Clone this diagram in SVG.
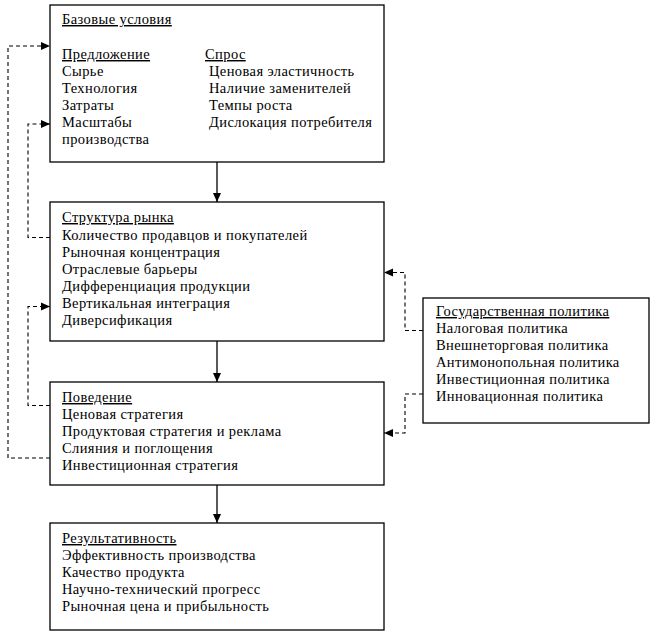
<svg xmlns="http://www.w3.org/2000/svg" width="657" height="635" viewBox="0 0 657 635">
<defs>
<marker id="ah" markerWidth="10" markerHeight="10" refX="9" refY="5" orient="auto" markerUnits="userSpaceOnUse">
<path d="M0,1 L9,5 L0,9 Z" fill="#000"/>
</marker>
<style>
.box{fill:#fff;stroke:#000;stroke-width:1.3}
.u{text-decoration:underline}
.solid{fill:none;stroke:#000;stroke-width:1.3}
.dash{fill:none;stroke:#000;stroke-width:1.1;stroke-dasharray:4,3}
</style>
</defs>
<rect width="657" height="635" fill="#fff"/>
<g id="connectors">
<line class="solid" x1="217" y1="162" x2="217" y2="202" marker-end="url(#ah)"/>
<line class="solid" x1="217" y1="341" x2="217" y2="382" marker-end="url(#ah)"/>
<line class="solid" x1="217" y1="485" x2="217" y2="523" marker-end="url(#ah)"/>
<polyline class="dash" points="50,458 8,458 8,46 50,46" marker-end="url(#ah)"/>
<polyline class="dash" points="50,237.5 28,237.5 28,124 50,124" marker-end="url(#ah)"/>
<polyline class="dash" points="50,405.5 28,405.5 28,306.5 50,306.5" marker-end="url(#ah)"/>
<polyline class="dash" points="423,330.5 405,330.5 405,272.5 384,272.5" marker-end="url(#ah)"/>
<polyline class="dash" points="423,394 405,394 405,433 384,433" marker-end="url(#ah)"/>
</g>
<g font-family="'Liberation Serif', 'Times New Roman', serif" font-size="14.5" letter-spacing="0.4" fill="#000">
<g id="base">
<rect class="box" x="50" y="5" width="334" height="157"/>
<text x="62" y="24" class="u">Базовые условия</text>
<text x="62" y="59" class="u">Предложение</text>
<text x="62" y="76">Сырье</text>
<text x="62" y="93">Технология</text>
<text x="62" y="110">Затраты</text>
<text x="62" y="127">Масштабы</text>
<text x="62" y="144">производства</text>
<text x="205" y="59" class="u">Спрос</text>
<text x="209" y="76">Ценовая эластичность</text>
<text x="209" y="93">Наличие заменителей</text>
<text x="209" y="110">Темпы роста</text>
<text x="209" y="127">Дислокация потребителя</text>
</g>
<g id="structure">
<rect class="box" x="50" y="202" width="334" height="139"/>
<text x="62" y="222" class="u">Структура рынка</text>
<text x="62" y="239.5">Количество продавцов и покупателей</text>
<text x="62" y="256.5">Рыночная концентрация</text>
<text x="62" y="273.5">Отраслевые барьеры</text>
<text x="62" y="290.5">Дифференциация продукции</text>
<text x="62" y="307.5">Вертикальная интеграция</text>
<text x="62" y="324.5">Диверсификация</text>
</g>
<g id="behavior">
<rect class="box" x="50" y="382" width="334" height="103"/>
<text x="62" y="402" class="u">Поведение</text>
<text x="62" y="419">Ценовая стратегия</text>
<text x="62" y="436">Продуктовая стратегия и реклама</text>
<text x="62" y="453">Слияния и поглощения</text>
<text x="62" y="470">Инвестиционная стратегия</text>
</g>
<g id="performance">
<rect class="box" x="50" y="523" width="334" height="107"/>
<text x="62" y="543" class="u">Результативность</text>
<text x="62" y="560">Эффективность производства</text>
<text x="62" y="577">Качество продукта</text>
<text x="62" y="594">Научно-технический прогресс</text>
<text x="62" y="611">Рыночная цена и прибыльность</text>
</g>
<g id="policy">
<rect class="box" x="423" y="298" width="226" height="125"/>
<text x="436" y="316" class="u">Государственная политика</text>
<text x="436" y="333">Налоговая политика</text>
<text x="436" y="350">Внешнеторговая политика</text>
<text x="436" y="367">Антимонопольная политика</text>
<text x="436" y="384">Инвестиционная политика</text>
<text x="436" y="401">Инновационная политика</text>
</g>
</g>
</svg>
